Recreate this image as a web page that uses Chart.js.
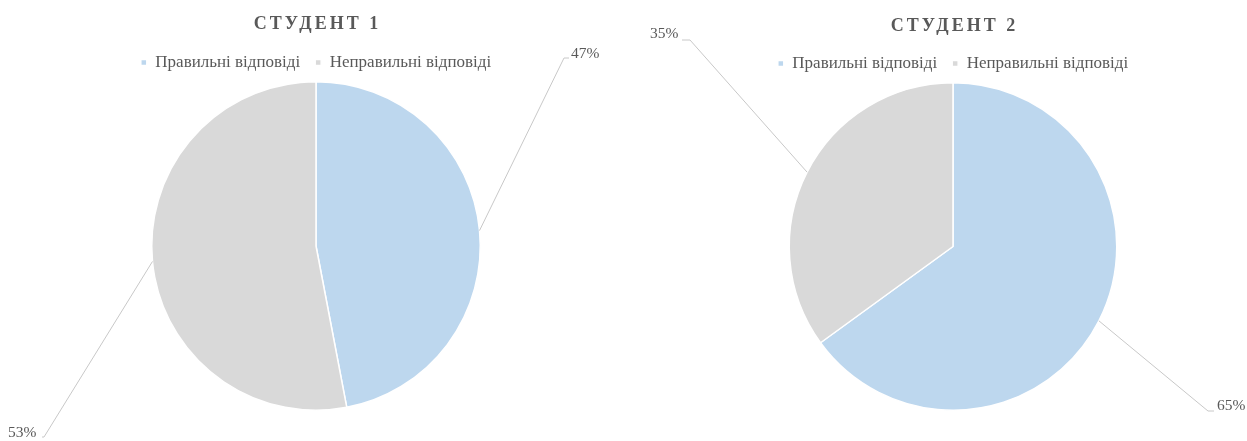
<!DOCTYPE html>
<html>
<head>
<meta charset="utf-8">
<script src="https://cdn.jsdelivr.net/npm/chart.js@4.4.1/dist/chart.umd.min.js"></script>
<style>
html,body{margin:0;padding:0;background:#fff;}
#wrap{position:relative;width:1247px;height:441px;overflow:hidden;}
.box{position:absolute;top:0;height:441px;}
#b1{left:0;width:632px;}
#b2{left:632px;width:615px;}
</style>
</head>
<body>
<div id="wrap">
  <div class="box" id="b1"><canvas id="c1"></canvas></div>
  <div class="box" id="b2"><canvas id="c2"></canvas></div>
</div>
<script>
// ---- data ----
const categories = ['Правильні відповіді', 'Неправильні відповіді'];
const titles = ['СТУДЕНТ 1', 'СТУДЕНТ 2'];
const student1 = [47, 53];
const student2 = [65, 35];

const colors = ['#bdd7ee', '#d9d9d9'];
const textColor = '#595959';
const serif = '"Liberation Serif", "Times New Roman", serif';

// Title drawn with letter spacing + leader-line data labels
const decorPlugin = {
  id: 'decor',
  afterDraw(chart, args, opts) {
    const ctx = chart.ctx;
    ctx.save();
    ctx.font = 'bold 18px ' + serif;
    ctx.fillStyle = textColor;
    ctx.textAlign = 'center';
    ctx.textBaseline = 'middle';
    if ('letterSpacing' in ctx) ctx.letterSpacing = '3px';
    const ca = chart.chartArea;
    ctx.fillText(opts.title, (ca.left + ca.right) / 2 + 1.5, opts.titleY);
    if ('letterSpacing' in ctx) ctx.letterSpacing = '0px';
    const meta = chart.getDatasetMeta(0);
    const data = chart.data.datasets[0].data;
    const total = data.reduce((a, b) => a + b, 0);
    ctx.font = '15.5px ' + serif;
    ctx.textAlign = 'left';
    meta.data.forEach((arc, i) => {
      const p = arc.getProps(['x', 'y', 'startAngle', 'endAngle', 'outerRadius'], true);
      const mid = (p.startAngle + p.endAngle) / 2;
      const ax = p.x + Math.cos(mid) * p.outerRadius;
      const ay = p.y + Math.sin(mid) * p.outerRadius;
      const L = opts.labels[i];
      ctx.strokeStyle = '#c8c8c8';
      ctx.lineWidth = 1;
      ctx.beginPath();
      ctx.moveTo(ax, ay);
      ctx.lineTo(L.ex, L.ey);
      ctx.lineTo(L.hx, L.ey);
      ctx.stroke();
      ctx.fillStyle = textColor;
      ctx.fillText(Math.round(data[i] / total * 100) + '%', L.tx, L.ty);
    });
    ctx.restore();
  }
};

function makeChart(id, values, title, pad, titleY, labels) {
  return new Chart(document.getElementById(id), {
    type: 'pie',
    data: {
      labels: categories,
      datasets: [{
        data: values,
        backgroundColor: colors,
        borderColor: '#ffffff',
        borderWidth: 1.5,
        hoverOffset: 0
      }]
    },
    options: {
      responsive: true,
      maintainAspectRatio: false,
      animation: false,
      events: [],
      layout: { padding: pad },
      plugins: {
        title: { display: false },
        tooltip: { enabled: false },
        legend: {
          display: true,
          position: 'top',
          labels: {
            color: textColor,
            font: { family: serif, size: 17 },
            boxWidth: 6,
            boxHeight: 6,
            padding: 15
          }
        },
        decor: { title: title, titleY: titleY, labels: labels }
      }
    },
    plugins: [decorPlugin]
  });
}

makeChart('c1', student1, titles[0],
  { top: 39, bottom: 30, left: 0, right: 0 }, 24,
  [
    { ex: 564, ey: 58, hx: 569, tx: 571, ty: 54 },
    { ex: 44, ey: 437, hx: 42, tx: 8, ty: 433 }
  ]);

makeChart('c2', student2, titles[1],
  { top: 40, bottom: 30, left: 27, right: 0 }, 26,
  [
    { ex: 576, ey: 411, hx: 582, tx: 585, ty: 406 },
    { ex: 58, ey: 40, hx: 50, tx: 18, ty: 34 }
  ]);
</script>
</body>
</html>
